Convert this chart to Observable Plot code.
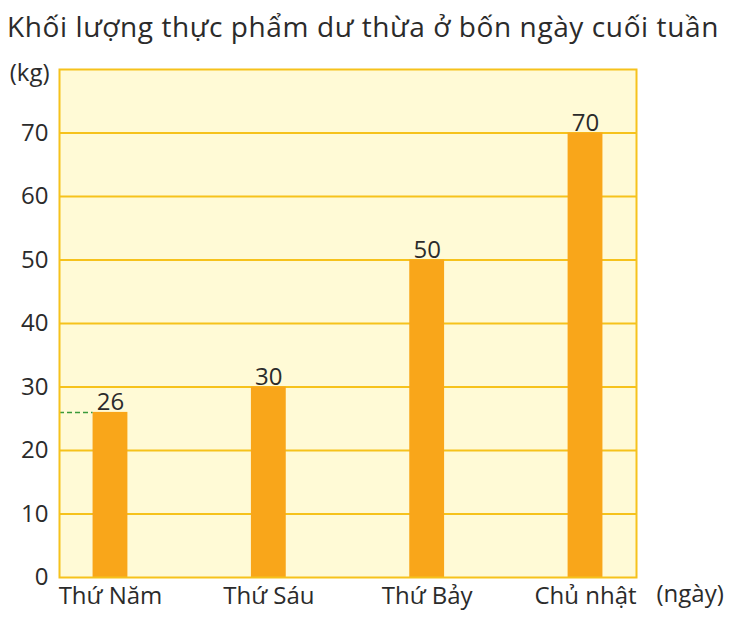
<!DOCTYPE html>
<html>
<head>
<meta charset="utf-8">
<script src="https://cdn.jsdelivr.net/npm/d3@7"></script>
<script src="https://cdn.jsdelivr.net/npm/@observablehq/plot@0.6"></script>
<style>
  html, body { margin: 0; padding: 0; background: #fff; }
  body { width: 734px; font-family: "Open Sans", sans-serif; color: #2b2b2b; }
  #title { height: 50px; box-sizing: border-box; padding: 8px 0 0 7px; font-size: 28px; letter-spacing: 0.6px; line-height: 36px; white-space: nowrap; }
  svg { display: block; }
</style>
</head>
<body>
<div id="title">Khối lượng thực phẩm dư thừa ở bốn ngày cuối tuần</div>
<div id="chart"></div>
<script>
const days = ["Thứ Năm", "Thứ Sáu", "Thứ Bảy", "Chủ nhật"];
const values = [26, 30, 50, 70];
const yTicks = [0, 10, 20, 30, 40, 50, 60, 70];
const yUnit = "(kg)";
const xUnit = "(ngày)";

const data = days.map((day, i) => ({ i, day, value: values[i] }));
const xDomain = [-0.322, days.length - 1 + 0.322];
const half = 0.11;
const gold = "#f6c21c";
const fontFamily = "Open Sans, sans-serif";
const fs = 24;

const chart = Plot.plot({
  width: 734,
  height: 571,
  marginLeft: 59,
  marginRight: 98,
  marginTop: 19,
  marginBottom: 44,
  style: { fontFamily, color: "#2b2b2b", background: "transparent" },
  x: { type: "linear", domain: xDomain, axis: null },
  y: { domain: [0, 80], axis: null },
  marks: [
    Plot.frame({ fill: "#fffad6", stroke: "none" }),
    Plot.ruleY(yTicks.filter(t => t > 0), { stroke: gold, strokeWidth: 2 }),
    Plot.rectY(data, { x1: d => d.i - half, x2: d => d.i + half, y: "value", fill: "#f9a61a" }),
    Plot.ruleY([values[0]], { x1: () => xDomain[0], x2: () => -half, stroke: "#3a9a3a", strokeWidth: 1.5, strokeDasharray: "5,3" }),
    Plot.text(data, { x: "i", y: "value", text: d => String(d.value), dy: -2, lineAnchor: "bottom", fontSize: fs, fill: "#2b2b2b" }),
    Plot.axisY({ ticks: yTicks, tickSize: 0, tickPadding: 11, fontSize: fs, fill: "#2b2b2b", label: null }),
    Plot.axisX({ ticks: d3.range(days.length), tickFormat: i => days[i], tickSize: 0, tickPadding: 9, fontSize: fs, fill: "#2b2b2b", label: null }),
    Plot.frame({ stroke: gold, strokeWidth: 2 }),
    Plot.text([yUnit], { frameAnchor: "top-left", dx: -10, dy: -6, textAnchor: "end", fontSize: fs, fill: "#2b2b2b" }),
    Plot.text([xUnit], { frameAnchor: "bottom-right", dx: 20, dy: 24, textAnchor: "start", fontSize: fs, fill: "#2b2b2b" })
  ]
});
document.getElementById("chart").appendChild(chart);
</script>
</body>
</html>
